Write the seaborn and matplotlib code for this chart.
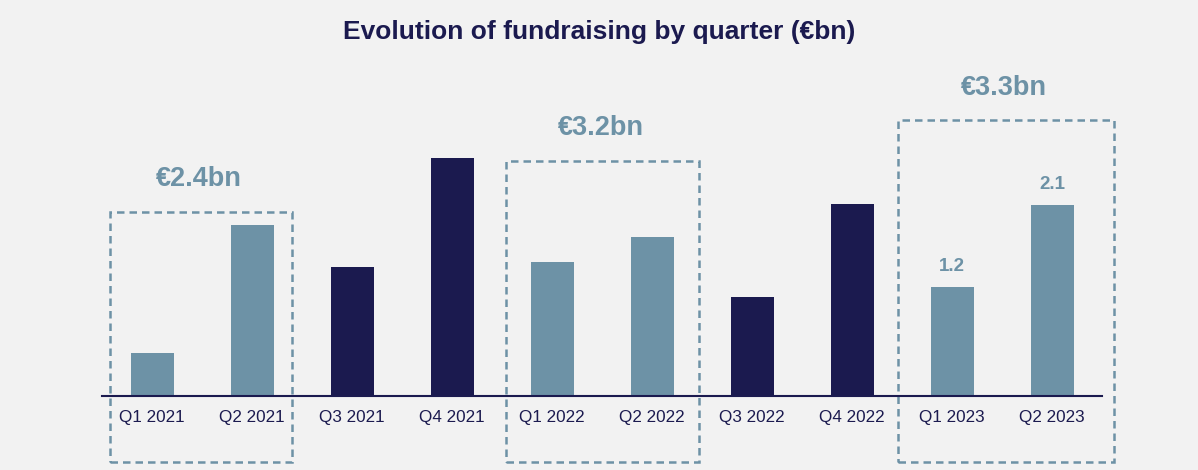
import pandas as pd
import matplotlib.pyplot as plt
import seaborn as sns
from matplotlib.patches import Rectangle

quarters = ['Q1 2021', 'Q2 2021', 'Q3 2021', 'Q4 2021', 'Q1 2022',
            'Q2 2022', 'Q3 2022', 'Q4 2022', 'Q1 2023', 'Q2 2023']
amounts = [0.47, 1.88, 1.42, 2.62, 1.47, 1.75, 1.09, 2.11, 1.2, 2.1]
groups = ['H1', 'H1', 'H2', 'H2', 'H1', 'H1', 'H2', 'H2', 'H1', 'H1']
h1_totals = ['€2.4bn', '€3.2bn', '€3.3bn']
labelled = {'Q1 2023': '1.2', 'Q2 2023': '2.1'}

light = '#6d92a6'
dark = '#1b1a4f'
bg = '#f2f2f2'

df = pd.DataFrame({'quarter': quarters, 'amount': amounts, 'half': groups})

sns.set_theme(style='white')
plt.rcParams['font.family'] = ['Liberation Sans', 'DejaVu Sans']

fig = plt.figure(figsize=(11.98, 4.7), dpi=100, facecolor=bg)
ax = fig.add_axes([102 / 1198, 74 / 470, 1000 / 1198, 273 / 470])
ax.set_facecolor(bg)

sns.barplot(data=df, x='quarter', y='amount', hue='half',
            palette={'H1': light, 'H2': dark}, width=0.43,
            legend=False, ax=ax, saturation=1, linewidth=0)

ax.set_xlim(-0.5, 9.5)
ax.set_ylim(0, 3.0)
ax.set_xlabel('')
ax.set_ylabel('')
ax.set_yticks([])
for s in ['top', 'right', 'left']:
    ax.spines[s].set_visible(False)
ax.spines['bottom'].set_color(dark)
ax.spines['bottom'].set_linewidth(1.5)
ax.tick_params(axis='x', length=0, pad=10, labelsize=12.3, labelcolor=dark)

# dashed boxes around the first-half quarters
boxes = [(-0.42, 1.40, 2.02), (3.54, 5.47, 2.58), (7.46, 9.62, 3.03)]
for (x0, x1, top), txt in zip(boxes, h1_totals):
    ax.add_patch(Rectangle((x0, -0.725), x1 - x0, top + 0.725, fill=False,
                           edgecolor=light, linewidth=1.8,
                           linestyle=(0, (3, 2)), clip_on=False))
    ax.text((x0 + x1) / 2 - 0.02, top + 0.36, txt, ha='center', va='center',
            fontsize=19.5, fontweight='bold', color=light, clip_on=False)

for i, q in enumerate(quarters):
    if q in labelled:
        ax.text(i, amounts[i] + 0.22, labelled[q], ha='center', va='center',
                fontsize=13.5, fontweight='bold', color=light)

fig.text(0.5, 1 - 32 / 470, 'Evolution of fundraising by quarter (€bn)',
         ha='center', va='center', fontsize=19, fontweight='bold', color=dark)

fig.savefig('out.png', dpi=100, facecolor=bg)
